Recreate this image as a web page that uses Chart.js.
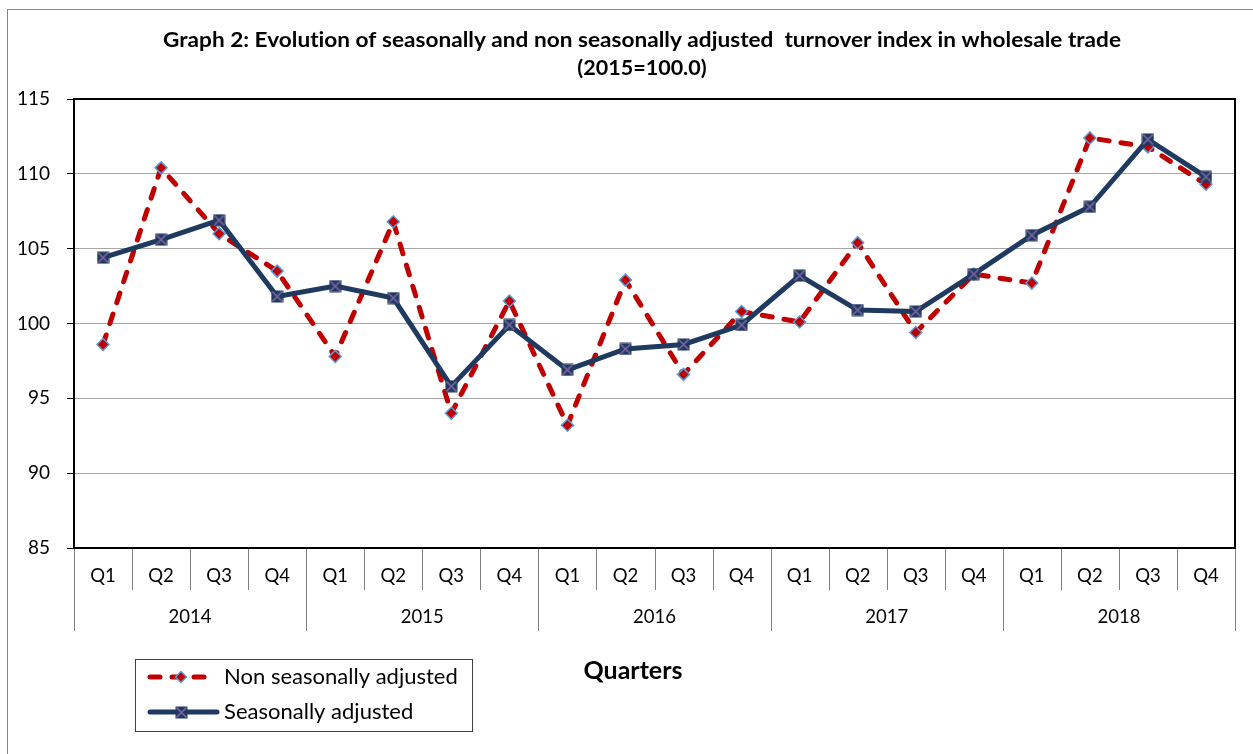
<!DOCTYPE html>
<html>
<head>
<meta charset="utf-8">
<script src="https://cdn.jsdelivr.net/npm/chart.js@4/dist/chart.umd.min.js"></script>
<style>
html,body{margin:0;padding:0;background:#fff;}
#wrap{width:1253px;height:754px;position:relative;}
</style>
</head>
<body>
<div id="wrap"><canvas id="c" width="1253" height="754"></canvas></div>
<script>
const quarters = ['Q1','Q2','Q3','Q4'];
const years = ['2014','2015','2016','2017','2018'];
const nonSeasonal = [98.6,110.4,106.0,103.5, 97.8,106.8,94.0,101.5, 93.2,102.9,96.6,100.8, 100.1,105.4,99.4,103.3, 102.7,112.4,111.8,109.3];
const seasonal = [104.4,105.6,106.9,101.8, 102.5,101.7,95.8,99.9, 96.9,98.3,98.6,99.9, 103.2,100.9,100.8,103.3, 105.9,107.8,112.3,109.8];
const yTicks = [85,90,95,100,105,110,115];
const titleLines = ['Graph 2: Evolution of seasonally and non seasonally adjusted  turnover index in wholesale trade','(2015=100.0)'];
const seriesNames = ['Non seasonally adjusted','Seasonally adjusted'];
const axisTitle = 'Quarters';

const labels = [];
years.forEach(y => quarters.forEach(q => labels.push([q, y])));

const RED = '#c00000', NAVY = '#1f3a60', PURPLE = '#8064a2', LBLUE = '#5b9bd5';
const FONT = 'Lato, "Open Sans", sans-serif';

function makeSAMarker(){
  const c = document.createElement('canvas');
  c.width = 13; c.height = 13;
  const g = c.getContext('2d');
  g.fillStyle = NAVY; g.fillRect(0.5,0.5,12,12);
  g.strokeStyle = PURPLE; g.lineWidth = 1.6;
  g.beginPath(); g.moveTo(1.5,1.5); g.lineTo(11.5,11.5); g.moveTo(11.5,1.5); g.lineTo(1.5,11.5); g.stroke();
  return c;
}
const saMarker = makeSAMarker();

function fitText(ctx, text, x, y, targetW){
  const w = ctx.measureText(text).width;
  if (w > 0 && Math.abs(w - targetW) / targetW < 0.15) {
    ctx.save(); ctx.translate(x, y); ctx.scale(targetW / w, 1); ctx.fillText(text, 0, 0); ctx.restore();
  } else ctx.fillText(text, x, y);
}

const deco = {
  id: 'deco',
  afterDraw(chart){
    const ctx = chart.ctx, a = chart.chartArea, xs = chart.scales.x;
    ctx.save();
    // outer frame
    ctx.strokeStyle = '#868686'; ctx.lineWidth = 1;
    ctx.strokeRect(7.5, 9.5, 1400, 900);
    // plot border
    ctx.strokeStyle = '#000'; ctx.lineWidth = 2;
    ctx.strokeRect(a.left, a.top, a.right - a.left, a.bottom - a.top);
    // category separators & labels
    const n = labels.length;
    const half = (xs.getPixelForValue(1) - xs.getPixelForValue(0)) / 2;
    ctx.strokeStyle = '#7f7f7f'; ctx.lineWidth = 1;
    for (let i = 0; i <= n; i++) {
      const bx = Math.round((i < n ? xs.getPixelForValue(i) - half : xs.getPixelForValue(n-1) + half)) + 0.5;
      const yEnd = (i % 4 === 0) ? 631 : 590;
      ctx.beginPath(); ctx.moveTo(bx, a.bottom + 1); ctx.lineTo(bx, yEnd); ctx.stroke();
    }
    ctx.fillStyle = '#000'; ctx.textAlign = 'center'; ctx.textBaseline = 'middle';
    if ('letterSpacing' in ctx) ctx.letterSpacing = '0.01px';
    ctx.font = '18.5px ' + FONT;
    for (let i = 0; i < n; i++) ctx.fillText(labels[i][0], xs.getPixelForValue(i), 576);
    years.forEach((y, k) => {
      const cx = (xs.getPixelForValue(k*4) + xs.getPixelForValue(k*4+3)) / 2;
      ctx.fillText(y, cx, 617);
    });
    // title
    ctx.font = 'bold 20px ' + FONT;
    fitText(ctx, titleLines[0], 642, 41, 958);
    ctx.font = 'bold 21.5px ' + FONT;
    ctx.fillText(titleLines[1], 642, 68);
    // axis title
    ctx.font = 'bold 25px ' + FONT;
    ctx.fillText(axisTitle, 633, 671);
    // legend
    ctx.strokeStyle = '#404040'; ctx.lineWidth = 1;
    ctx.strokeRect(135.5, 659.5, 337, 72);
    ctx.lineCap = 'round';
    ctx.strokeStyle = RED; ctx.lineWidth = 5; ctx.setLineDash([10, 12]);
    ctx.beginPath(); ctx.moveTo(150, 677); ctx.lineTo(216, 677); ctx.stroke();
    ctx.setLineDash([]);
    ctx.fillStyle = RED; ctx.strokeStyle = LBLUE; ctx.lineWidth = 1.5;
    ctx.beginPath(); ctx.moveTo(181, 671.5); ctx.lineTo(186.5, 677); ctx.lineTo(181, 682.5); ctx.lineTo(175.5, 677); ctx.closePath(); ctx.fill(); ctx.stroke();
    ctx.strokeStyle = NAVY; ctx.lineWidth = 5;
    ctx.beginPath(); ctx.moveTo(150, 712); ctx.lineTo(217, 712); ctx.stroke();
    ctx.drawImage(saMarker, 175, 706);
    ctx.lineCap = 'butt';
    ctx.fillStyle = '#000'; ctx.textAlign = 'left';
    ctx.font = '22px ' + FONT;
    ctx.fillText(seriesNames[0], 224, 677);
    ctx.fillText(seriesNames[1], 224, 712);
    ctx.restore();
  }
};

new Chart(document.getElementById('c'), {
  type: 'line',
  data: {
    labels: labels,
    datasets: [
      {
        label: seriesNames[0], data: nonSeasonal, order: 2,
        borderColor: RED, borderWidth: 5, borderDash: [10, 12], borderCapStyle: 'round',
        pointStyle: 'rectRot', pointRadius: 6, pointBackgroundColor: RED,
        pointBorderColor: LBLUE, pointBorderWidth: 1.5, tension: 0, fill: false
      },
      {
        label: seriesNames[1], data: seasonal, order: 1,
        borderColor: NAVY, borderWidth: 5, borderJoinStyle: 'miter',
        pointStyle: saMarker, pointRadius: 6, tension: 0, fill: false
      }
    ]
  },
  options: {
    responsive: false, animation: false,
    layout: { padding: { top: 99, right: 18, left: 0, bottom: 0 } },
    plugins: { legend: { display: false }, title: { display: false }, tooltip: { enabled: false } },
    scales: {
      x: {
        type: 'category', offset: true,
        grid: { display: false },
        border: { display: false },
        ticks: { display: false },
        afterFit(s){ s.height = 206; }
      },
      y: {
        min: 85, max: 115,
        afterBuildTicks(s){ s.ticks = yTicks.map(v => ({ value: v })); },
        grid: { color: '#a6a6a6', lineWidth: 1, tickLength: 7, tickColor: '#000', drawTicks: true },
        border: { display: true, color: '#000', width: 2 },
        ticks: { color: '#000', font: { family: 'Lato', size: 19 }, padding: 17 },
        afterFit(s){ s.width = 74; }
      }
    }
  },
  plugins: [deco]
});
</script>
</body>
</html>
